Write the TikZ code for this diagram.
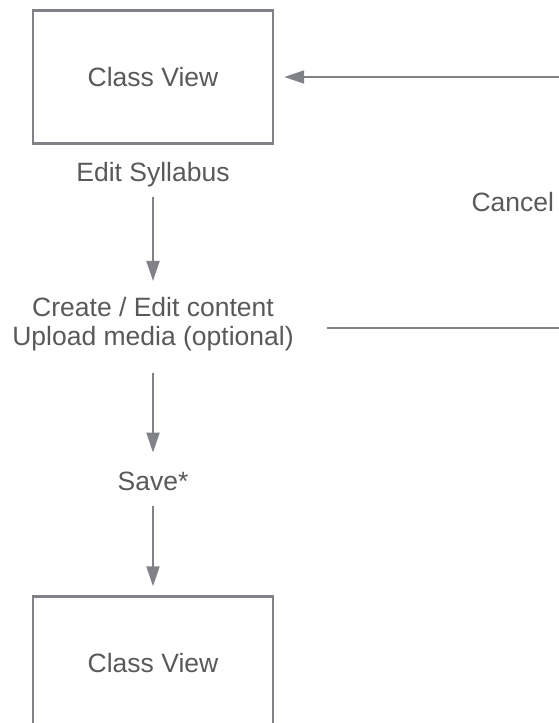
\documentclass[tikz,border=0pt]{standalone}
\usepackage{fontspec}
\setmainfont{Liberation Sans}
\usepackage{xcolor}
\usetikzlibrary{
    positioning,
    calc,
    arrows.meta
}
\definecolor{linegray}{HTML}{808287}
\definecolor{textgray}{HTML}{595959}
\tikzset{
  basic/.style = {
      font=\fontsize{26.5}{29}\selectfont,
      text=textgray,
      align=center,
      inner sep=0pt
  },
  view/.style = {
      basic,
      draw=linegray,
      line width=2.4pt,
      rectangle,
      minimum width=240pt,
      minimum height=133pt
  },
  step label/.style = {
      basic,
      text height=19pt,
      text depth=5.5pt
  },
  flow/.style = {
      draw=linegray,
      line width=2pt,
      -{Triangle[length=20pt,width=13pt]}
  },
  back/.style = {
      draw=linegray,
      line width=2pt
  }
}

\begin{document}
\begin{tikzpicture}[x=1pt, y=1pt]
    \useasboundingbox (0,0) rectangle (558,-723);
    % Nodes
    \node[view] (view1) at (153,-77) {Class View};
    \node[step label, below of=view1, node distance=98pt] (syllabus) {Edit Syllabus};
    \node[basic, below of=syllabus, node distance=149pt] (edit) {Create / Edit content\\Upload media (optional)};
    \node[step label, below of=edit, node distance=160pt] (save) {Save*};
    \node[view, below of=save, node distance=179pt] (view2) {Class View};
    \coordinate (ret1) at (578,-328);
    \coordinate (ret2) at (578,-77);
    % Edges
    \path[flow, shorten <=10pt, shorten >=16pt] (syllabus) -- (edit);
    \path[flow, shorten <=22pt, shorten >=19pt] (edit) -- (save);
    \path[flow, shorten <=10pt, shorten >=9pt] (save) -- (view2);
    \path[back] ([yshift=-4pt]edit.east) ++(33pt,0) -- (ret1)
        -- node[basic, midway, left=23pt] (cancel) {Cancel} (ret2);
    \path[flow, shorten >=10pt] (ret2) -- (view1);
\end{tikzpicture}
\end{document}
